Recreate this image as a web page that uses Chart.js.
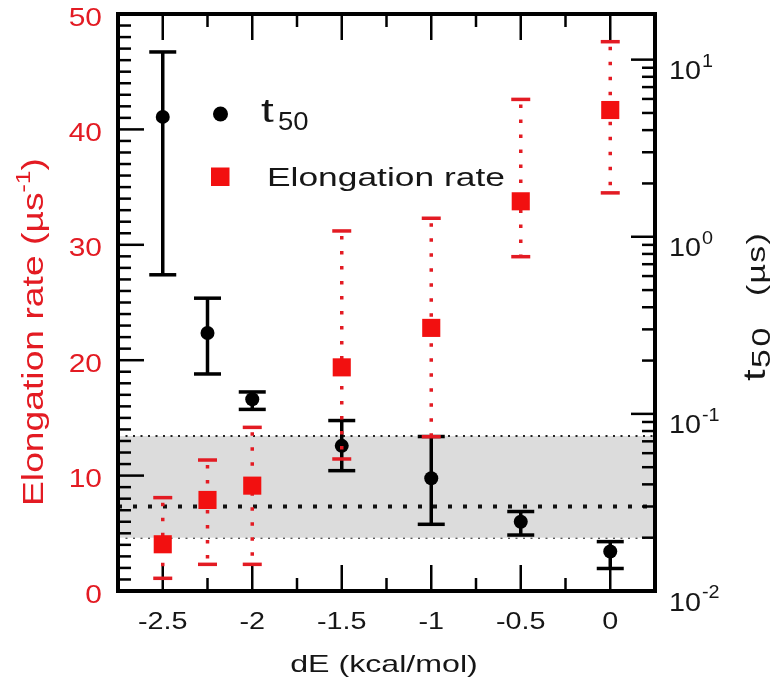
<!DOCTYPE html>
<html>
<head>
<meta charset="utf-8">
<title>t50 and elongation rate vs dE</title>
<script src="https://cdn.jsdelivr.net/npm/chart.js@4.4.1/dist/chart.umd.min.js"></script>
<style>
  body { margin: 0; background: #fff; }
  #wrap { width: 774px; height: 683px; }
</style>
</head>
<body>
<div id="wrap"><canvas id="rateChart"></canvas></div>
<script>
// ================= DATA =================
// dE (kcal/mol)
const dE = [-2.5, -2.25, -2, -1.5, -1, -0.5, 0];

// t50 (µs) on the right log axis, with error bar ends
const t50 = [4.75, 0.286, 0.121, 0.066, 0.0433, 0.0246, 0.0167];
const t50Low = [0.61, 0.168, 0.106, 0.0478, 0.0238, 0.0207, 0.0134];
const t50High = [11.05, 0.45, 0.133, 0.0917, 0.0745, 0.0281, 0.019];

// elongation rate (µs^-1) on the left axis, with error bar ends
const rate = [4.05, 7.89, 9.13, 19.38, 22.8, 33.77, 41.68];
const rateLow = [1.1, 2.31, 2.31, 11.44, 13.37, 28.97, 34.5];
const rateHigh = [8.09, 11.35, 14.18, 31.2, 32.3, 42.6, 47.6];

// shaded reference band (t50, µs)
const bandLow = 0.02;
const bandMid = 0.03;
const bandHigh = 0.075;

// axes
const xRange = [-2.75, 0.25];
const xTicks = [-2.5, -2, -1.5, -1, -0.5, 0];
const xMinorTicks = [-2.25, -1.75, -1.25, -0.75, -0.25];
const rateTicks = [0, 10, 20, 30, 40, 50];
const t50Decades = [-2, -1, 0, 1];
const t50Range = [0.01, 18.1];

const FONT = '"Liberation Sans", Arial, Helvetica, sans-serif';
const RED = "#e31b23";
const INK = "#161616";

// ================= TEXT HELPERS =================
function wideText(ctx, str, x, y, size, sx, align, color) {
  ctx.save();
  ctx.font = size + "px " + FONT;
  ctx.fillStyle = color;
  ctx.textAlign = align;
  ctx.textBaseline = "alphabetic";
  ctx.translate(x, y);
  ctx.scale(sx, 1);
  ctx.fillText(str, 0, 0);
  ctx.restore();
}

function textWidth(ctx, str, size, sx) {
  ctx.font = size + "px " + FONT;
  return ctx.measureText(str).width * sx;
}

// vertical title, reading bottom to top, made of pieces (sub/superscripts)
function sideTitle(ctx, pieces, x, yStart, length, color) {
  let natural = 0;
  pieces.forEach(p => {
    ctx.font = p.size + "px " + FONT;
    p.w = ctx.measureText(p.text).width;
    natural += p.w;
  });
  const sx = length / natural;
  ctx.save();
  ctx.translate(x, yStart);
  ctx.rotate(-Math.PI / 2);
  ctx.scale(sx, 1);
  ctx.fillStyle = color;
  ctx.textBaseline = "alphabetic";
  let pos = 0;
  pieces.forEach(p => {
    ctx.font = p.size + "px " + FONT;
    ctx.fillText(p.text, pos, p.dy);
    pos += p.w;
  });
  ctx.restore();
}

// vertical title with each piece placed at its own offset along the text
function placedTitle(ctx, pieces, x, yStart, color) {
  pieces.forEach(p => {
    ctx.save();
    ctx.translate(x, yStart);
    ctx.rotate(-Math.PI / 2);
    ctx.translate(p.at, 0);
    ctx.scale(p.sx, 1);
    ctx.fillStyle = color;
    ctx.textBaseline = "alphabetic";
    ctx.font = p.size + "px " + FONT;
    if ("letterSpacing" in ctx) ctx.letterSpacing = (p.spacing || 0) + "px";
    ctx.fillText(p.text, 0, p.dy);
    ctx.restore();
  });
}

// ================= TICKS =================
function tickLine(ctx, x1, y1, x2, y2) {
  ctx.beginPath();
  ctx.moveTo(x1, y1);
  ctx.lineTo(x2, y2);
  ctx.stroke();
}

function drawTicks(chart) {
  const ctx = chart.ctx;
  const a = chart.chartArea;
  const sx = chart.scales.x, sy = chart.scales.y, sy2 = chart.scales.y2;

  ctx.save();
  ctx.strokeStyle = "#000";
  ctx.lineWidth = 2.5;

  // left: every 1 unit, long ones every 10
  for (let v = rateTicks[0]; v <= rateTicks[rateTicks.length - 1]; v++) {
    const y = sy.getPixelForValue(v);
    const len = rateTicks.includes(v) ? 26 : 13;
    tickLine(ctx, a.left, y, a.left + len, y);
  }

  // right: log decades and 2..9 in between
  t50Decades.forEach(k => {
    for (let m = 1; m <= 9; m++) {
      const v = m * Math.pow(10, k);
      if (v > t50Range[1]) break;
      const y = sy2.getPixelForValue(v);
      const len = m === 1 ? 24 : 13;
      tickLine(ctx, a.right - len, y, a.right, y);
    }
  });

  // top and bottom
  xTicks.forEach(v => {
    const x = sx.getPixelForValue(v);
    tickLine(ctx, x, a.top, x, a.top + 26);
    tickLine(ctx, x, a.bottom - 26, x, a.bottom);
  });
  xMinorTicks.forEach(v => {
    const x = sx.getPixelForValue(v);
    tickLine(ctx, x, a.top, x, a.top + 13);
    tickLine(ctx, x, a.bottom - 13, x, a.bottom);
  });
  ctx.restore();
}

// ================= ERROR BARS =================
function drawT50Bars(chart) {
  const ctx = chart.ctx;
  const sx = chart.scales.x, sy2 = chart.scales.y2;
  ctx.save();
  ctx.strokeStyle = "#000";
  ctx.lineWidth = 3.5;
  dE.forEach((d, i) => {
    const x = sx.getPixelForValue(d);
    const yLo = sy2.getPixelForValue(t50Low[i]);
    const yHi = sy2.getPixelForValue(t50High[i]);
    tickLine(ctx, x, yLo, x, yHi);
    tickLine(ctx, x - 13.5, yLo, x + 13.5, yLo);
    tickLine(ctx, x - 13.5, yHi, x + 13.5, yHi);
  });
  ctx.restore();
}

function drawRateBars(chart) {
  const ctx = chart.ctx;
  const sx = chart.scales.x, sy = chart.scales.y;
  ctx.save();
  ctx.strokeStyle = RED;
  dE.forEach((d, i) => {
    const x = sx.getPixelForValue(d);
    const yLo = sy.getPixelForValue(rateLow[i]);
    const yHi = sy.getPixelForValue(rateHigh[i]);
    // dotted stem
    ctx.lineWidth = 3.5;
    ctx.setLineDash([3.5, 11.5]);
    ctx.lineDashOffset = 10;
    tickLine(ctx, x, yHi, x, yLo);
    // solid caps
    ctx.setLineDash([]);
    ctx.lineWidth = 3.5;
    tickLine(ctx, x - 9.5, yLo, x + 9.5, yLo);
    tickLine(ctx, x - 9.5, yHi, x + 9.5, yHi);
  });
  ctx.restore();
}

// ================= FRAME, LABELS, LEGEND =================
function drawDecorations(chart) {
  const ctx = chart.ctx;
  const a = chart.chartArea;
  const sx = chart.scales.x, sy = chart.scales.y, sy2 = chart.scales.y2;

  ctx.save();
  ctx.strokeStyle = "#000";
  ctx.lineWidth = 4;
  ctx.strokeRect(a.left, a.top, a.right - a.left, a.bottom - a.top);
  ctx.restore();

  // left tick labels
  rateTicks.forEach(v => {
    wideText(ctx, String(v), 102, sy.getPixelForValue(v) + 11.5, 26, 1.15, "right", RED);
  });

  // bottom tick labels
  xTicks.forEach(v => {
    wideText(ctx, String(v), sx.getPixelForValue(v), 628.5, 23, 1.25, "center", INK);
  });

  // right tick labels, 10^k
  t50Decades.forEach(k => {
    const y = sy2.getPixelForValue(Math.pow(10, k));
    wideText(ctx, "10", 669, y + 19.5, 25, 1.15, "left", INK);
    const w = textWidth(ctx, "10", 25, 1.15);
    wideText(ctx, String(k), 669 + w + 1, y + 7, 18, 1.1, "left", INK);
  });

  // axis titles
  wideText(ctx, "dE (kcal/mol)", 384, 671.5, 24, 1.34, "center", INK);

  sideTitle(ctx, [
    { text: "Elongation rate (µs", size: 30, dy: 0 },
    { text: "-1", size: 20, dy: -13 },
    { text: ")", size: 30, dy: 0 }
  ], 43, 506, 348, RED);

  placedTitle(ctx, [
    { text: "t", size: 32, sx: 1.3, dy: 0, at: 0 },
    { text: "50", size: 25, sx: 1.35, dy: 5, at: 13, spacing: 2 },
    { text: "(µs)", size: 26, sx: 1.3, dy: 0, at: 85, spacing: 1 }
  ], 765, 381, INK);

  // legend
  ctx.save();
  ctx.fillStyle = "#000";
  ctx.beginPath();
  ctx.arc(220.5, 114, 7.5, 0, Math.PI * 2);
  ctx.fill();
  ctx.fillStyle = "#f21010";
  ctx.fillRect(211, 167.5, 18.5, 18.5);
  ctx.restore();

  wideText(ctx, "t", 261, 121.5, 34, 1.35, "left", INK);
  wideText(ctx, "50", 278, 130, 25, 1.1, "left", INK);
  wideText(ctx, "Elongation rate", 267, 186, 26, 1.36, "left", INK);
}

const decorPlugin = {
  id: "decor",
  beforeDatasetDraw(chart, args) {
    const ds = chart.data.datasets[args.index];
    if (ds.key === "t50") {
      drawTicks(chart);
      drawT50Bars(chart);
    }
    if (ds.key === "rate") {
      drawRateBars(chart);
    }
  },
  afterDraw(chart) {
    drawDecorations(chart);
  }
};

// ================= CHART =================
function bandLine(level) {
  return [{ x: xRange[0], y: level }, { x: xRange[1], y: level }];
}

const ctx = document.getElementById("rateChart").getContext("2d");

new Chart(ctx, {
  type: "scatter",
  data: {
    datasets: [
      {
        key: "bandHigh",
        type: "line",
        data: bandLine(bandHigh),
        yAxisID: "y2",
        borderColor: "#222",
        borderWidth: 2,
        borderDash: [2, 5.5],
        backgroundColor: "#dcdcdc",
        fill: "+2",
        pointRadius: 0,
        order: 10
      },
      {
        key: "bandMid",
        type: "line",
        data: bandLine(bandMid),
        yAxisID: "y2",
        borderColor: "#111",
        borderWidth: 4,
        borderDash: [4, 11],
        fill: false,
        pointRadius: 0,
        order: 9
      },
      {
        key: "bandLow",
        type: "line",
        data: bandLine(bandLow),
        yAxisID: "y2",
        borderColor: "#222",
        borderWidth: 2,
        borderDash: [2, 5.5],
        fill: false,
        pointRadius: 0,
        order: 10
      },
      {
        key: "t50",
        label: "t50",
        data: dE.map((d, i) => ({ x: d, y: t50[i] })),
        yAxisID: "y2",
        pointStyle: "circle",
        pointRadius: 7,
        pointBackgroundColor: "#000",
        pointBorderColor: "#000",
        pointBorderWidth: 0,
        order: 2
      },
      {
        key: "rate",
        label: "Elongation rate",
        data: dE.map((d, i) => ({ x: d, y: rate[i] })),
        yAxisID: "y",
        pointStyle: "rect",
        pointRadius: 12.8,
        pointBackgroundColor: "#f21010",
        pointBorderWidth: 0,
        order: 1
      }
    ]
  },
  options: {
    responsive: true,
    maintainAspectRatio: false,
    animation: false,
    layout: { padding: { left: 118, right: 119, top: 14, bottom: 92 } },
    plugins: {
      legend: { display: false },
      tooltip: { enabled: false }
    },
    scales: {
      x: { type: "linear", display: false, min: xRange[0], max: xRange[1] },
      y: { type: "linear", display: false, position: "left", min: 0, max: 50 },
      y2: { type: "logarithmic", display: false, position: "right", min: t50Range[0], max: t50Range[1] }
    }
  },
  plugins: [decorPlugin]
});
</script>
</body>
</html>
